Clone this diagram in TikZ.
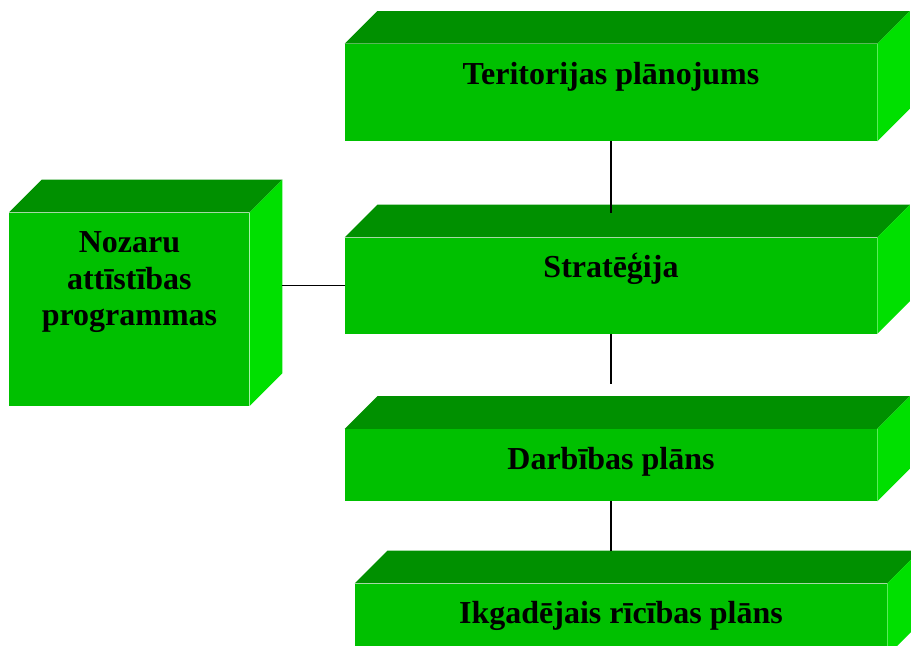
\documentclass[tikz,border=0pt]{standalone}
\usepackage{fontspec}
\setmainfont{Liberation Serif}
\usetikzlibrary{positioning}

\definecolor{frontgreen}{RGB}{0,192,0}
\definecolor{topgreen}{RGB}{0,144,0}
\definecolor{sidegreen}{RGB}{0,224,0}

\begin{document}
\begin{tikzpicture}[
    node distance=72pt,
    cube/.style={fill=frontgreen, inner sep=0pt, minimum width=399pt,
        text height=30pt, text depth=#1-30pt, minimum height=#1,
        font=\fontsize{24pt}{27.5pt}\selectfont\bfseries},
    topface/.style={fill=topgreen},
    sideface/.style={fill=sidegreen},
    link/.style={line width=0.9pt, black}
]
   \clip (0,0) rectangle (683.25pt,-484.5pt);

   % Boxes
   \node[cube=72.75pt] (ter) at (458.25pt,-69.375pt) {Teritorijas plānojums};
   \node[cube=72pt] (str) [below=72pt of ter] {Stratēģija};
   \node[cube=54pt] (dar) [below=71.25pt of str] {Darbības plāns};
   \node[cube=54pt, xshift=7.5pt] (ikg) [below=61.5pt of dar] {Ikgadējais rīcības plāns};
   \node[cube=144.75pt, minimum width=180pt, text width=180pt, align=center, yshift=-17.625pt]
        (noz) [left=71.25pt of str] {Nozaru\\ attīstības\\ programmas};

   % 3D faces
   \foreach \b in {ter, str, dar, ikg, noz} {
      \fill[topface] (\b.north west) -- ++(24.5pt,24.5pt)
         -- ([shift={(24.5pt,24.5pt)}]\b.north east) -- (\b.north east) -- cycle;
      \fill[sideface] (\b.north east) -- ++(24.5pt,24.5pt)
         -- ([shift={(24.5pt,24.5pt)}]\b.south east) -- (\b.south east) -- cycle;
   }

   % Links
   \path ([yshift=24pt]ikg.north) coordinate (ikgback);
   \path ([xshift=24.5pt]noz.east) coordinate (nozback);
   \draw[link] (ter.south) -- ([yshift=18pt]str.north);
   \draw[link] (str.south) -- ([yshift=33.75pt]dar.north);
   \draw[link] (dar.south) -- (dar.south |- ikgback);
   \draw[link] (str.west) -- (str.west -| nozback);
\end{tikzpicture}
\end{document}
